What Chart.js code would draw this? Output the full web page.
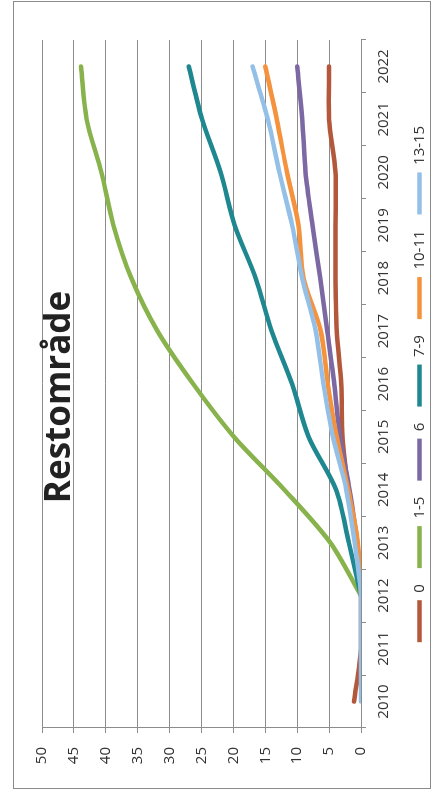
<!DOCTYPE html>
<html>
<head>
<meta charset="utf-8">
<script src="https://cdn.jsdelivr.net/npm/chart.js@4"></script>
<style>
  html, body { margin:0; padding:0; background:#fff; width:437px; height:796px; overflow:hidden; }
  #frame { position:absolute; left:13px; top:1px; width:418px; height:788px; border:1px solid #8a8a8a; box-sizing:border-box; }
  #wrap { position:absolute; left:0; top:0; width:796px; height:437px; transform-origin:0 0; transform:translate(0px,796px) rotate(-90deg); }
  #c { position:absolute; left:0; top:0; }
  #title { position:absolute; left:399px; top:56px; transform:translate(-50%,-50%); font-family:"Open Sans", sans-serif; font-weight:700; font-size:35px; line-height:1; color:#222; white-space:nowrap; }
</style>
</head>
<body>
<div id="frame"></div>
<div id="wrap">
  <canvas id="c" width="796" height="437"></canvas>
  <div id="title">Restområde</div>
</div>
<script>
const years = ['2010','2011','2012','2013','2014','2015','2016','2017','2018','2019','2020','2021','2022'];
const seriesNames = ['0','1-5','6','7-9','10-11','13-15'];
const s0    = [1.1, 0, 0, 0.8, 2.0, 2.9, 3.1, 3.8, 4.0, 4.0, 4.0, 5.0, 5.0];
const s1_5  = [null, null, 0, 4.8, 12.0, 19.9, 26.3, 31.9, 36.0, 38.8, 40.7, 43.0, 43.9];
const s6    = [null, null, 0, 0.6, 1.8, 3.3, 4.2, 5.3, 6.4, 7.6, 8.7, 9.2, 10.0];
const s7_9  = [null, null, 0, 1.9, 3.9, 8.2, 10.8, 14.0, 16.5, 19.8, 22.0, 24.9, 27.0];
const s10_11= [null, null, 0, 0.5, 2.0, 3.8, 5.2, 6.3, 9.0, 9.8, 11.6, 13.2, 15.0];
const s13_15= [0, 0, 0, 1.0, 2.3, 4.4, 5.9, 7.1, 9.2, 10.8, 12.8, 14.6, 17.0];
const valueTicks = [0,5,10,15,20,25,30,35,40,45,50];

const colors = ['#b4583c','#88b24c','#7c68a2','#1e878f','#f5923e','#94c0e8'];
const allData = [s0, s1_5, s6, s7_9, s10_11, s13_15];

const datasets = allData.map((d, i) => ({
  label: seriesNames[i],
  data: d,
  borderColor: colors[i],
  backgroundColor: colors[i],
  borderWidth: 4.5,
  borderCapStyle: 'round',
  borderJoinStyle: 'round',
  pointRadius: 0,
  pointHoverRadius: 0,
  tension: 0.3,
  fill: false,
  spanGaps: false,
  order: allData.length - i
}));

const gridColor = '#8c8c8c';
const tickFont = { family: '"Open Sans", sans-serif', size: 15 };

new Chart(document.getElementById('c'), {
  type: 'line',
  data: { labels: years, datasets },
  options: {
    responsive: false,
    animation: false,
    devicePixelRatio: 1,
    layout: { padding: { left: 10, right: 40, top: 42, bottom: 0 } },
    plugins: {
      title: { display: false },
      tooltip: { enabled: false },
      legend: {
        position: 'bottom',
        fullSize: false,
        labels: {
          usePointStyle: true,
          pointStyle: 'line',
          pointStyleWidth: 42,
          padding: 16,
          color: '#333',
          font: tickFont,
          sort: (a, b) => a.datasetIndex - b.datasetIndex
        }
      }
    },
    scales: {
      x: {
        type: 'category',
        offset: true,
        grid: { offset: true, drawOnChartArea: false, drawTicks: true, tickLength: 5, color: gridColor },
        border: { display: true, color: gridColor, width: 1 },
        ticks: { color: '#333', font: tickFont, padding: 9, maxRotation: 0, minRotation: 0, autoSkip: false },
        afterFit: (s) => { s.height = 35; }
      },
      y: {
        min: 0, max: 50,
        afterBuildTicks: (s) => { s.ticks = valueTicks.map(v => ({ value: v })); },
        grid: { color: gridColor, lineWidth: 1, drawTicks: true, tickLength: 5 },
        border: { display: true, color: gridColor, width: 1 },
        ticks: { color: '#333', font: tickFont, padding: 14 },
        afterFit: (s) => { s.width = 58; }
      }
    }
  }
});
</script>
</body>
</html>
